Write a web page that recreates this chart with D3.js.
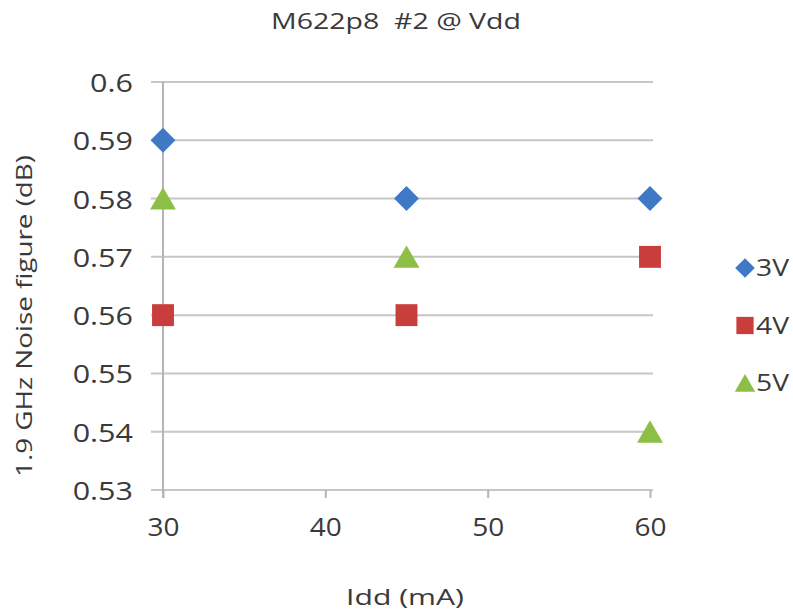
<!DOCTYPE html>
<html lang="en">
<head>
<meta charset="UTF-8">
<script src="https://d3js.org/d3.v7.min.js"></script>
<style>
  html, body { margin: 0; padding: 0; background: #fff; }
  svg text { font-family: 'Open Sans', sans-serif; fill: #3a3a3a; }
  .tick text { font-size: 25px; font-family: 'Open Sans', sans-serif; fill: #3a3a3a; }
  .title { font-size: 22px; white-space: pre; }
  .axis-title { font-size: 22px; }
  .legend text { font-size: 23px; }
</style>
</head>
<body>
<div id="chart"></div>
<script>
// data
var idd = [30, 45, 60];
var v3 = [0.59, 0.58, 0.58];
var v4 = [0.56, 0.56, 0.57];
var v5 = [0.58, 0.57, 0.54];
var seriesNames = ['3V', '4V', '5V'];
var xTicks = [30, 40, 50, 60];
var yTicks = [0.53, 0.54, 0.55, 0.56, 0.57, 0.58, 0.59, 0.6];

var width = 793, height = 614;
var svg = d3.select('#chart').append('svg')
  .attr('width', width).attr('height', height);

var x = d3.scaleLinear().domain([30, 60]).range([163, 650]);
var y = d3.scaleLinear().domain([0.53, 0.6]).range([490, 82]);

var colors = ['#3f79c6', '#c93d3d', '#8dbf46'];
var symbols = [d3.symbolSquare, d3.symbolSquare, d3.symbolTriangle];
var sizes = [310, 480, 290];
var rot = [45, 0, 0];
var shift = [0, 0, 3.5];

// the source picture is a bit stretched sideways, so widen the labels a little
function widen(sel, k) {
  sel.each(function() {
    var w = this.getComputedTextLength();
    d3.select(this).attr('textLength', w * k).attr('lengthAdjust', 'spacingAndGlyphs');
  });
}

// gridlines
svg.append('g').selectAll('line')
  .data(yTicks)
  .enter().append('line')
  .attr('x1', 151).attr('x2', 653)
  .attr('y1', function(d) { return y(d); })
  .attr('y2', function(d) { return y(d); })
  .style('stroke', '#c6c6c6').style('stroke-width', 2);

// y axis
var yAxis = svg.append('g')
  .attr('transform', 'translate(151,0)')
  .call(d3.axisLeft(y).tickValues(yTicks).tickSize(0).tickPadding(18)
    .tickFormat(function(d) { return d3.format('.2~f')(d); }));
yAxis.select('.domain').remove();
yAxis.selectAll('.tick text').attr('dy', '0.38em');
widen(yAxis.selectAll('.tick text'), 1.22);

// vertical axis line at x=30
svg.append('line')
  .attr('x1', x(30)).attr('x2', x(30))
  .attr('y1', y(0.6)).attr('y2', y(0.53) + 8)
  .style('stroke', '#b5b5b5').style('stroke-width', 2);

// x axis
var xAxis = svg.append('g')
  .attr('transform', 'translate(0,' + y(0.53) + ')')
  .call(d3.axisBottom(x).tickValues(xTicks).tickSize(8).tickPadding(20));
xAxis.select('.domain').remove();
xAxis.selectAll('.tick line').style('stroke', '#b5b5b5').style('stroke-width', 2);
widen(xAxis.selectAll('.tick text'), 1.12);

// points
var all = [v3, v4, v5];
all.forEach(function(vals, s) {
  svg.append('g').selectAll('path')
    .data(vals)
    .enter().append('path')
    .attr('d', d3.symbol().type(symbols[s]).size(sizes[s]))
    .attr('transform', function(d, i) {
      return 'translate(' + x(idd[i]) + ',' + (y(d) + shift[s]) + ') rotate(' + rot[s] + ')';
    })
    .style('fill', colors[s]);
});

// title
svg.append('text').attr('class', 'title')
  .attr('x', 396).attr('y', 29).attr('text-anchor', 'middle')
  .attr('textLength', 250).attr('lengthAdjust', 'spacingAndGlyphs')
  .text('M622p8  #2 @ Vdd');

// axis titles
svg.append('text').attr('class', 'axis-title')
  .attr('x', 405).attr('y', 605).attr('text-anchor', 'middle')
  .attr('textLength', 118).attr('lengthAdjust', 'spacingAndGlyphs')
  .text('Idd (mA)');
svg.append('text').attr('class', 'axis-title')
  .attr('transform', 'translate(32,316) rotate(-90)')
  .attr('text-anchor', 'middle')
  .attr('textLength', 322).attr('lengthAdjust', 'spacingAndGlyphs')
  .text('1.9 GHz Noise figure (dB)');

// legend
var legend = svg.append('g').attr('class', 'legend')
  .selectAll('g')
  .data(seriesNames)
  .enter().append('g')
  .attr('transform', function(d, i) { return 'translate(745,' + (268 + i * 57.5) + ')'; });
legend.append('path')
  .attr('d', function(d, i) { return d3.symbol().type(symbols[i]).size(sizes[i] * 0.62)(); })
  .attr('transform', function(d, i) { return 'translate(0,' + (shift[i] * 0.8) + ') rotate(' + rot[i] + ')'; })
  .style('fill', function(d, i) { return colors[i]; });
legend.append('text')
  .attr('x', 11).attr('y', 8)
  .attr('textLength', 33).attr('lengthAdjust', 'spacingAndGlyphs')
  .text(function(d) { return d; });
</script>
</body>
</html>
